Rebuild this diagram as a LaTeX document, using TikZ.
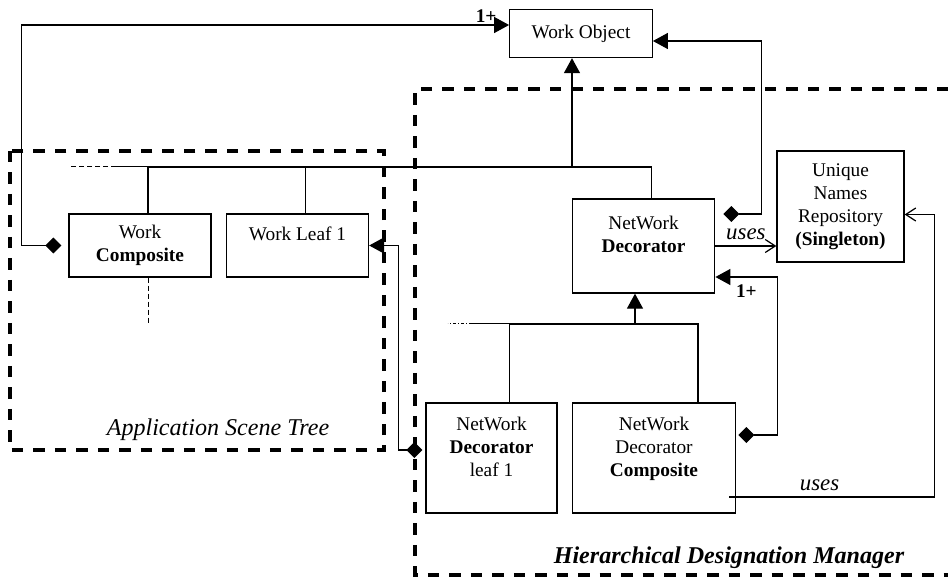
\documentclass[tikz,border=0pt]{standalone}
\usepackage{fontspec}
\setmainfont{Liberation Serif}
\usetikzlibrary{arrows.meta,calc}

\begin{document}
\begin{tikzpicture}
[x=0.02cm,y=-0.02cm,%
  lineDecorate/.style={-,line width=0.7pt},%
  classDecorate/.style={shape=rectangle,draw,line width=0.75pt,inner sep=0pt,align=center,font=\fontsize{11}{13}\selectfont},%
  inheritDecorate/.style={lineDecorate,-{Triangle[length=3mm,width=3.2mm]}},%
  ownDecorate/.style={lineDecorate,{Diamond[length=3.2mm,width=3.2mm]}-{Triangle[length=3mm,width=3.2mm]}},%
  usesDecorate/.style={lineDecorate,-{Straight Barb[length=2mm,width=2.6mm]}},%
  moreDecorate/.style={line width=0.5pt,dash pattern=on 0.1cm off 0.06cm},%
  groupDecorate/.style={line width=2.3pt,dash pattern=on 0.23cm off 0.2cm},%
  usesLabel/.style={font=\fontsize{13}{15}\selectfont\itshape},%
  groupLabel/.style={font=\fontsize{13.7}{16}\selectfont\itshape}]
\useasboundingbox (0,0) rectangle (948,578);
%% package frames
\coordinate (appNW) at (10,151);
\coordinate (appSE) at (384,450);
\coordinate (hdmNW) at (415,89);
\coordinate (hdmSW) at (415,575);
\draw[groupDecorate] (appNW) rectangle (appSE);
\draw[groupDecorate] (hdmNW -| 948,0) -- (hdmNW) -- (hdmSW) -- (hdmSW -| 948,0);
\node[groupLabel] at ($(appSE)+(-166,-20)$) {Application Scene Tree};
\node[groupLabel] at ($(hdmSW)+(314,-17)$) {\textbf{Hierarchical Designation Manager}};
%% classes
\node (workObj) at (581,33.5) [classDecorate,minimum width=2.85cm,minimum height=0.96cm] {Work Object};
\node (workComp) at (140,245.5) [classDecorate,minimum width=2.84cm,minimum height=1.26cm] {Work\\\textbf{Composite}};
\node (workLeaf) at (297.5,245.5) [classDecorate,minimum width=2.84cm,minimum height=1.26cm] {Work Leaf 1\\\mbox{}};
\node (netDec) at (643.5,246) [classDecorate,minimum width=2.85cm,minimum height=1.88cm] {NetWork\\\textbf{Decorator}\\\mbox{}};
\node (uniqueNames) at (840.5,206.5) [classDecorate,minimum width=2.54cm,minimum height=2.22cm] {Unique\\Names\\Repository\\\textbf{(Singleton)}};
\node (netDecLeaf) at (491.5,458) [classDecorate,minimum width=2.62cm,minimum height=2.2cm] {NetWork\\\textbf{Decorator}\\leaf 1\\\mbox{}};
\node (netDecComp) at (654,458) [classDecorate,minimum width=3.27cm,minimum height=2.2cm] {NetWork\\Decorator\\\textbf{Composite}\\\mbox{}};
%% generalisation trees
\coordinate (appJoin) at (572,167);
\coordinate (decJoin) at (635,324);
\draw[inheritDecorate] (appJoin) -- (appJoin |- workObj.south);
\draw[lineDecorate] ($(workComp.north)+(8,0)$) |- (appJoin);
\draw[lineDecorate] ($(netDec.north)+(8,0)$) |- (appJoin);
\draw[lineDecorate] ($(workLeaf.north)+(8,0)$) -- ++(0,-47);
\draw[lineDecorate] ($(workComp.north)+(8,-47)$) -- ++(-32,0);
\draw[moreDecorate] ($(workComp.north)+(-24,-47)$) -- ++(-47,0);
\draw[moreDecorate] ($(workComp.south)+(8,0)$) -- ++(0,47);
\draw[inheritDecorate] (decJoin) -- (decJoin |- netDec.south);
\draw[lineDecorate] ($(netDecLeaf.north)+(18,0)$) |- (decJoin);
\draw[lineDecorate] ($(netDecComp.north)+(44,0)$) |- (decJoin);
\draw[lineDecorate] ($(netDecLeaf.north)+(18,-79)$) -- ++(-38,0);
\draw[line width=0.5pt,dash pattern=on 0.06cm off 0.04cm on 0.02cm off 0.04cm] ($(netDecLeaf.north)+(-20,-79)$) -- ++(-24,0);
%% aggregations
\draw[ownDecorate] ($(workComp.west)+(-7,0)$) -- ++(-40,0) |- ($(workObj.west)+(0,-8.5)$);
\node at ($(workObj.west)+(-23,-17.5)$) [font=\fontsize{11}{13}\selectfont] {\textbf{1+}};
\draw[ownDecorate] ($(netDec.east)+(8,-32)$) -- ++(38,0) |- ($(workObj.east)+(0,7.5)$);
\draw[ownDecorate] ($(netDecLeaf.west)+(-3,-8)$) -- ++(-24,0) |- (workLeaf.east);
\draw[ownDecorate] ($(netDecComp.east)+(2,-23)$) -- ++(39,0) |- ($(netDec.east)+(0,31)$);
\node at ($(netDec.east)+(31,45)$) [font=\fontsize{11}{13}\selectfont] {\textbf{1+}};
%% uses
\draw[usesDecorate] (netDec.east) -- node[above,usesLabel] {uses} (netDec.east -| uniqueNames.west);
\draw[usesDecorate] ($(netDecComp.east)+(-7,39)$) -- node[above,pos=0.44,usesLabel] {uses} ++(205,0) |- ($(uniqueNames.east)+(0,8)$);
\end{tikzpicture}
\end{document}
